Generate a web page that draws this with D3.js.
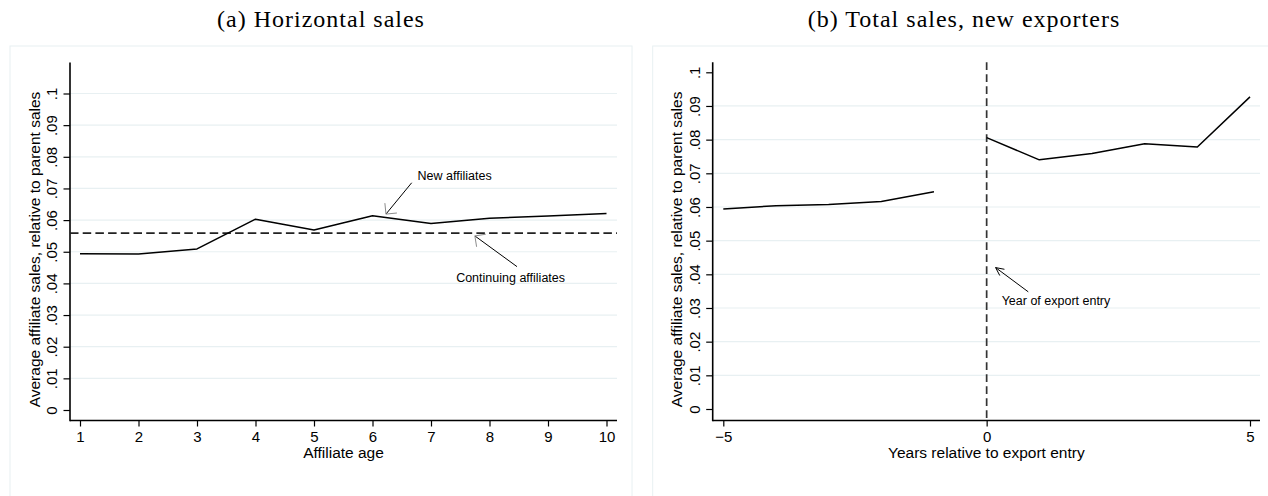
<!DOCTYPE html>
<html>
<head>
<meta charset="utf-8">
<script src="https://cdn.jsdelivr.net/npm/d3@7"></script>
<style>
  body { margin: 0; background: #fff; }
  svg { display: block; }
</style>
</head>
<body>
<div class="content"></div>
<script>
// panel (a): horizontal sales by affiliate age
var affiliateAge = [1, 2, 3, 4, 5, 6, 7, 8, 9, 10];
var newAffiliates = [0.0494, 0.0493, 0.0509, 0.0603, 0.0569, 0.0614, 0.0589, 0.0606, 0.0613, 0.0621];
var continuingAffiliates = 0.0559;

// panel (b): total sales around export entry
var yearsBefore = [-5, -4, -3, -2, -1];
var salesBefore = [0.0594, 0.0604, 0.0607, 0.0616, 0.0645];
var yearsAfter = [0, 1, 2, 3, 4, 5];
var salesAfter = [0.0806, 0.0740, 0.0759, 0.0788, 0.0778, 0.0927];
var exportEntryYear = 0;

var yTicks = [0, 0.01, 0.02, 0.03, 0.04, 0.05, 0.06, 0.07, 0.08, 0.09, 0.1];
var yTickLabels = ["0", ".01", ".02", ".03", ".04", ".05", ".06", ".07", ".08", ".09", ".1"];
var xTicksB = [-5, 0, 5];
var xTickLabelsB = ["\u22125", "0", "5"];

var W = 1268, H = 496;
var sansFont = "'Liberation Sans', Arial, Helvetica, sans-serif";
var serifFont = "'Liberation Serif', 'Times New Roman', serif";
var gridColor = "#e8f0f2";

var svg = d3.select('.content').append('svg')
    .attr('width', W)
    .attr('height', H);

svg.append('rect').attr('width', W).attr('height', H).attr('fill', '#fff');

function drawArrow(g, x1, y1, x2, y2, barbLen, barbAngle, barbColor) {
    g.append('line')
        .attr('x1', x1).attr('y1', y1).attr('x2', x2).attr('y2', y2)
        .attr('stroke', '#000').attr('stroke-width', 1);
    var a = Math.atan2(y1 - y2, x1 - x2);
    [-1, 1].forEach(function (s) {
        var b = a + s * barbAngle;
        g.append('line')
            .attr('x1', x2).attr('y1', y2)
            .attr('x2', x2 + barbLen * Math.cos(b))
            .attr('y2', y2 + barbLen * Math.sin(b))
            .attr('stroke', barbColor).attr('stroke-width', 1);
    });
}

function drawPanel(p) {
    var g = svg.append('g');

    // outer graph frame
    g.append('rect')
        .attr('x', p.frame[0]).attr('y', p.frame[1])
        .attr('width', p.frame[2]).attr('height', p.frame[3])
        .attr('fill', '#fff').attr('stroke', gridColor).attr('stroke-width', 1);

    g.append('text')
        .attr('x', p.titleX).attr('y', 27)
        .attr('text-anchor', 'middle')
        .style('font-family', serifFont)
        .style('font-size', '24px')
        .style('letter-spacing', '1px')
        .text(p.title);

    var x = p.x, y = p.y;

    // gridlines (Stata leaves out the ones too close to the plot edges)
    g.append('g').selectAll('line')
        .data(yTicks.filter(function (t) {
            return y(t) - p.top > 15 && p.bottom - y(t) > 15;
        }))
        .enter().append('line')
        .attr('x1', p.left).attr('x2', p.right)
        .attr('y1', function (d) { return y(d); })
        .attr('y2', function (d) { return y(d); })
        .attr('stroke', gridColor).attr('stroke-width', 1.2);

    // y axis
    var yAxis = d3.axisLeft(y)
        .tickValues(yTicks)
        .tickSize(6.5)
        .tickSizeOuter(0)
        .tickFormat(function (d, i) { return yTickLabels[i]; });
    var ya = g.append('g').attr('transform', 'translate(' + p.left + ',0)').call(yAxis);
    ya.select('.domain').remove();
    ya.selectAll('.tick line').attr('stroke', '#000').attr('stroke-width', 1.2);
    ya.selectAll('.tick text')
        .attr('transform', 'rotate(-90)')
        .attr('x', 0).attr('y', -13).attr('dy', 0)
        .attr('text-anchor', 'middle')
        .attr('fill', '#000')
        .style('font-family', sansFont)
        .style('font-size', '15px');

    // x axis
    var xAxis = d3.axisBottom(x)
        .tickValues(p.xTicks)
        .tickSize(6)
        .tickSizeOuter(0)
        .tickFormat(function (d, i) { return p.xTickLabels[i]; });
    var xa = g.append('g').attr('transform', 'translate(0,' + p.bottom + ')').call(xAxis);
    xa.select('.domain').remove();
    xa.selectAll('.tick line').attr('stroke', '#000').attr('stroke-width', 1.2);
    xa.selectAll('.tick text')
        .attr('y', 21).attr('dy', 0)
        .attr('fill', '#000')
        .style('font-family', sansFont)
        .style('font-size', '15px');

    // axis lines
    g.append('line')
        .attr('x1', p.left).attr('x2', p.left)
        .attr('y1', p.top).attr('y2', p.bottom + 0.8)
        .attr('stroke', '#000').attr('stroke-width', 1.6);
    g.append('line')
        .attr('x1', p.left).attr('x2', p.right)
        .attr('y1', p.bottom).attr('y2', p.bottom)
        .attr('stroke', '#000').attr('stroke-width', 1.6);

    // axis titles
    g.append('text')
        .attr('x', (p.left + p.right) / 2).attr('y', 458)
        .attr('text-anchor', 'middle')
        .style('font-family', sansFont)
        .style('font-size', '15.5px')
        .text(p.xTitle);
    g.append('text')
        .attr('transform', 'translate(' + (p.left - 30.5) + ',' + ((p.top + p.bottom) / 2 + 8) + ') rotate(-90)')
        .attr('text-anchor', 'middle')
        .style('font-family', sansFont)
        .style('font-size', '15.5px')
        .text('Average affiliate sales, relative to parent sales');

    return g;
}

// ---- panel (a)
var xA = d3.scaleLinear().domain([1, 10]).range([80, 606.5]);
var yA = d3.scaleLinear().domain([0, 0.1]).range([410, 93.5]);
var gA = drawPanel({
    frame: [10, 46, 622, 470],
    title: '(a) Horizontal sales', titleX: 321,
    left: 70, right: 617, top: 62.5, bottom: 420.5,
    x: xA, y: yA,
    xTicks: affiliateAge, xTickLabels: affiliateAge.map(String),
    xTitle: 'Affiliate age'
});

gA.append('line')
    .attr('x1', 70).attr('x2', 617)
    .attr('y1', yA(continuingAffiliates)).attr('y2', yA(continuingAffiliates))
    .attr('stroke', '#222').attr('stroke-width', 1.7)
    .attr('stroke-dasharray', '8.5,4.2');

var lineA = d3.line()
    .x(function (d, i) { return xA(affiliateAge[i]); })
    .y(function (d) { return yA(d); });
gA.append('path')
    .attr('d', lineA(newAffiliates))
    .attr('fill', 'none').attr('stroke', '#000').attr('stroke-width', 1.5)
    .attr('stroke-linejoin', 'round');

drawArrow(gA, xA(6.67), yA(0.0718), xA(6.23), yA(0.0619), 11, Math.PI / 4, '#8c8c8c');
gA.append('text')
    .attr('x', xA(6.77)).attr('y', yA(0.0742) + 4.5)
    .style('font-family', sansFont).style('font-size', '12.5px')
    .text('New affiliates');

drawArrow(gA, xA(8.47), yA(0.0453), xA(7.75), yA(0.055), 11, Math.PI / 4, '#8c8c8c');
gA.append('text')
    .attr('x', xA(7.43)).attr('y', yA(0.0418) + 4.5)
    .style('font-family', sansFont).style('font-size', '12.5px')
    .text('Continuing affiliates');

// ---- panel (b)
var xB = d3.scaleLinear().domain([-5, 5]).range([723.3, 1250]);
var yB = d3.scaleLinear().domain([0, 0.1]).range([409, 72.3]);
var gB = drawPanel({
    frame: [652.7, 46, 622, 470],
    title: '(b) Total sales, new exporters', titleX: 964,
    left: 712.7, right: 1260, top: 62.3, bottom: 420.5,
    x: xB, y: yB,
    xTicks: xTicksB, xTickLabels: xTickLabelsB,
    xTitle: 'Years relative to export entry'
});

gB.append('line')
    .attr('x1', xB(exportEntryYear)).attr('x2', xB(exportEntryYear))
    .attr('y1', 62.3).attr('y2', 420.5)
    .attr('stroke', '#333').attr('stroke-width', 1.7)
    .attr('stroke-dasharray', '7.7,4.3');

var lineB = d3.line()
    .x(function (d) { return xB(d[0]); })
    .y(function (d) { return yB(d[1]); });
gB.append('path')
    .attr('d', lineB(d3.zip(yearsBefore, salesBefore)))
    .attr('fill', 'none').attr('stroke', '#000').attr('stroke-width', 1.5);
gB.append('path')
    .attr('d', lineB(d3.zip(yearsAfter, salesAfter)))
    .attr('fill', 'none').attr('stroke', '#000').attr('stroke-width', 1.5)
    .attr('stroke-linejoin', 'round');

drawArrow(gB, xB(0.79), yB(0.0348), xB(0.17), yB(0.042), 9, Math.PI / 7, '#000');
gB.append('text')
    .attr('x', xB(0.285)).attr('y', yB(0.0321) + 4.5)
    .style('font-family', sansFont).style('font-size', '12.5px')
    .text('Year of export entry');
</script>
</body>
</html>
